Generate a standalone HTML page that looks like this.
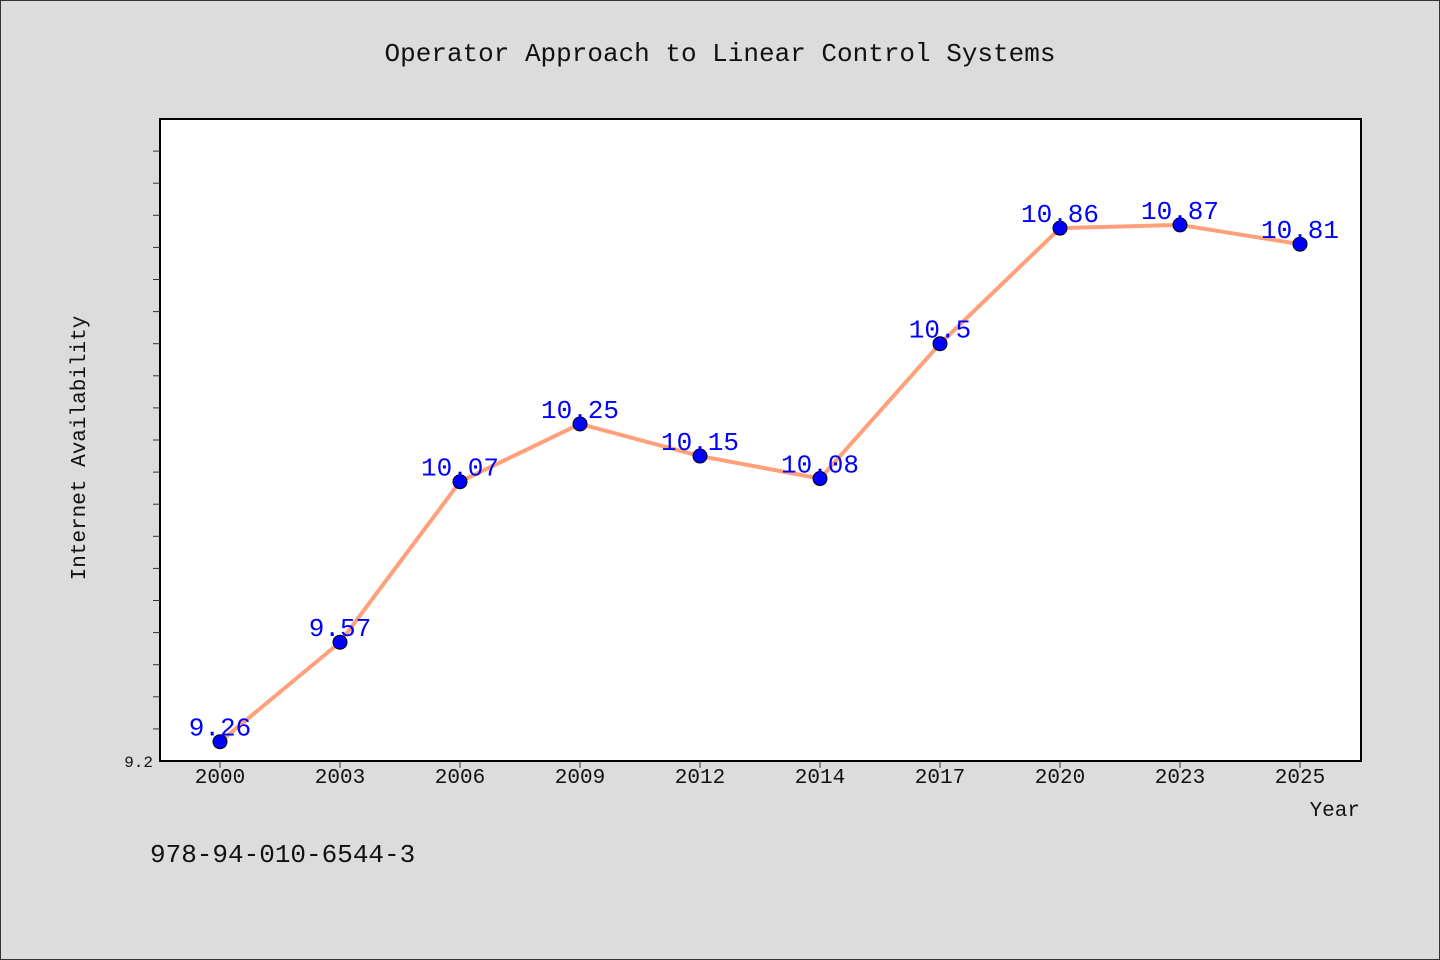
<!DOCTYPE html>
<html><head><meta charset="utf-8"><style>
html,body{margin:0;padding:0;background:#dcdcdc;}
svg{display:block;font-family:"WenQuanYi Zen Hei","Liberation Mono",monospace;}
</style></head><body>
<svg id="chart" width="1440" height="960">
<rect x="0.5" y="0.5" width="1439" height="959" fill="#dcdcdc" stroke="#333"/>
<text x="720" y="61" text-anchor="middle" font-size="26" fill="#111">Operator Approach to Linear Control Systems</text>
<rect x="160" y="119" width="1201" height="642" fill="#fff" stroke="#000" stroke-width="2"/>
<text transform="translate(85,448) rotate(-90)" text-anchor="middle" font-size="21" fill="#111">Internet Availability</text>
<text x="1360" y="816" text-anchor="end" font-size="21" fill="#111">Year</text>
<text x="150" y="862" font-size="26" fill="#111">978-94-010-6544-3</text>
<g id="axes"></g><g id="marks"></g>
</svg>
<script>
const categories=["2000","2003","2006","2009","2012","2014","2017","2020","2023","2025"];
const values=[9.26,9.57,10.07,10.25,10.15,10.08,10.5,10.86,10.87,10.81];
const labels=["9.26","9.57","10.07","10.25","10.15","10.08","10.5","10.86","10.87","10.81"];
const yMin=9.2,yMax=11.2;
const ns="http://www.w3.org/2000/svg";
function x(i){return 220+i*120;}
function y(v){return 761-(v-yMin)/(yMax-yMin)*642;}
function mk(t,a,p){const e=document.createElementNS(ns,t);for(const k in a)e.setAttribute(k,a[k]);p.appendChild(e);return e;}
const ax=document.getElementById('axes'),mg=document.getElementById('marks');
for(let k=1;k<20;k++){const v=yMin+k*0.1;const t=mk('line',{x1:153,x2:160,y1:y(v),y2:y(v),stroke:'#333','stroke-width':1},ax);
}
const yl=mk('text',{x:153,y:767,'text-anchor':'end','font-size':16,fill:'#111'},ax);yl.textContent="9.2";

categories.forEach((c,i)=>{const t=mk('line',{x1:x(i),x2:x(i),y1:761,y2:768,stroke:'#333'},ax);

const l=mk('text',{x:x(i),y:783,'text-anchor':'middle','font-size':21,fill:'#111'},ax);l.textContent=c;
});
const pts=values.map((v,i)=>x(i)+','+y(v)).join(' ');
const pl=mk('polyline',{points:pts,fill:'none',stroke:'#ffa07a','stroke-width':4,'stroke-linejoin':'round'},mg);

values.forEach((v,i)=>{const c=mk('circle',{cx:x(i),cy:y(v),r:7,fill:'#0000ff',stroke:'#000','stroke-width':1},mg);

const t=mk('text',{x:x(i),y:y(v)-6,'text-anchor':'middle','font-size':26,fill:'#0000ff'},mg);t.textContent=labels[i];
});
</script>
</body></html>
